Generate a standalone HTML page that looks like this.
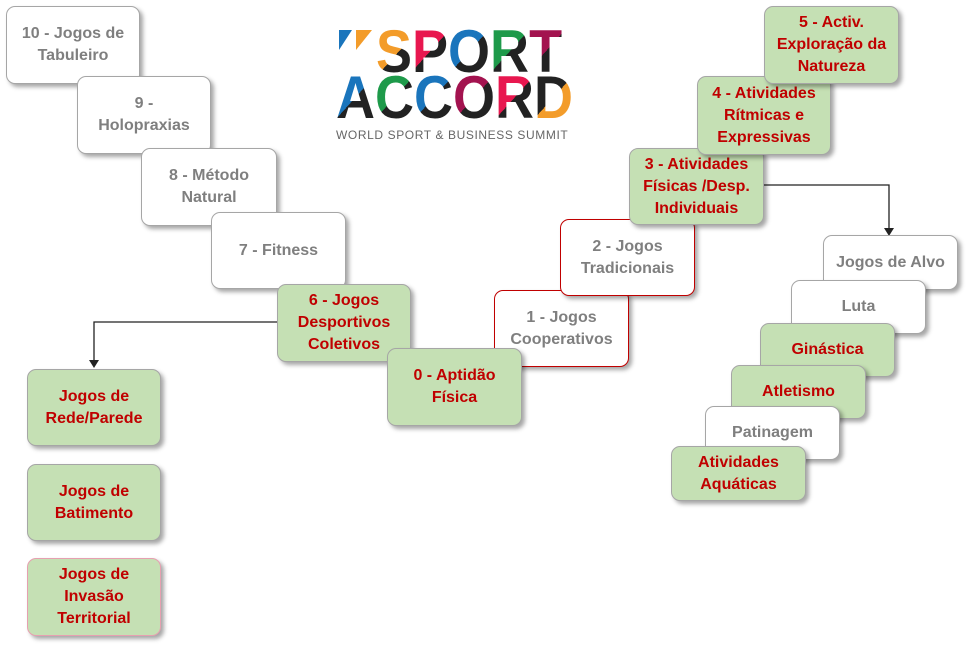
<!DOCTYPE html>
<html><head><meta charset="utf-8"><style>
body{margin:0;width:971px;height:651px;background:#fff;position:relative;overflow:hidden;font-family:"Liberation Sans",sans-serif}
.b{position:absolute;box-sizing:border-box;border:1px solid #a6a6a6;border-radius:9px;background:#fff;box-shadow:3px 3px 4px rgba(0,0,0,.35);display:flex;align-items:center;justify-content:center;text-align:center;font-weight:bold;font-size:16px;line-height:22px;color:#7f7f7f}
.g{background:#c5e0b4;color:#c00000}
.r{border-color:#c00000;color:#7f7f7f}
.logo{position:absolute;font-weight:bold;font-size:60px;line-height:60px;letter-spacing:0px;white-space:nowrap}
.logo span{-webkit-background-clip:text;background-clip:text;-webkit-text-fill-color:transparent;color:transparent}
</style></head><body>
<svg width="971" height="651" style="position:absolute;left:0;top:0">
<polyline points="277,322 94,322 94,362" fill="none" stroke="#222" stroke-width="1.3"/>
<polygon points="89,360 99,360 94,368" fill="#222"/>
<polyline points="764,185 889,185 889,230" fill="none" stroke="#222" stroke-width="1.3"/>
<polygon points="884,228 894,228 889,236" fill="#222"/>
<polygon points="339,30 352,30 339,50" fill="#1a75bc"/>
<polygon points="356,30 372,30 356,50" fill="#f39c2a"/>
</svg>
<div class="logo" style="left:376px;top:22px;transform:scaleX(0.9);transform-origin:left">
<span style="background-image:linear-gradient(135deg,#f39c2a 55%,#222 55%)">S</span><span style="background-image:linear-gradient(135deg,#e8174f 50%,#222 50%)">P</span><span style="background-image:linear-gradient(135deg,#1a75bc 50%,#222 50%)">O</span><span style="background-image:linear-gradient(135deg,#1e9a4a 50%,#222 50%)">R</span><span style="background-image:linear-gradient(135deg,#a3134f 50%,#222 50%)">T</span></div>
<div class="logo" style="left:336px;top:68px;transform:scaleX(0.9);transform-origin:left">
<span style="background-image:linear-gradient(135deg,#1a75bc 50%,#222 50%)">A</span><span style="background-image:linear-gradient(135deg,#1e9a4a 50%,#222 50%)">C</span><span style="background-image:linear-gradient(135deg,#1a75bc 50%,#222 50%)">C</span><span style="background-image:linear-gradient(135deg,#a3134f 50%,#222 50%)">O</span><span style="background-image:linear-gradient(135deg,#e8174f 50%,#222 50%)">R</span><span style="background-image:linear-gradient(135deg,#222 50%,#f39c2a 50%)">D</span></div>
<div style="position:absolute;left:336px;top:128px;font-size:12px;color:#666;letter-spacing:0.6px;white-space:nowrap">WORLD SPORT &amp; BUSINESS SUMMIT</div>

<div class="b" style="left:6px;top:6px;width:134px;height:78px">10 - Jogos de<br>Tabuleiro</div>
<div class="b" style="left:77px;top:76px;width:134px;height:78px">9 -<br>Holopraxias</div>
<div class="b" style="left:141px;top:148px;width:136px;height:78px">8 - Método<br>Natural</div>
<div class="b" style="left:211px;top:212px;width:135px;height:77px">7 - Fitness</div>
<div class="b g" style="left:277px;top:284px;width:134px;height:78px">6 - Jogos<br>Desportivos<br>Coletivos</div>
<div class="b r" style="left:494px;top:290px;width:135px;height:77px">1 - Jogos<br>Cooperativos</div>
<div class="b g" style="left:387px;top:348px;width:135px;height:78px">0 - Aptidão<br>Física</div>
<div class="b r" style="left:560px;top:219px;width:135px;height:77px">2 - Jogos<br>Tradicionais</div>
<div class="b g" style="left:629px;top:148px;width:135px;height:77px">3 - Atividades<br>Físicas /Desp.<br>Individuais</div>
<div class="b g" style="left:697px;top:76px;width:134px;height:79px">4 - Atividades<br>Rítmicas e<br>Expressivas</div>
<div class="b g" style="left:764px;top:6px;width:135px;height:78px">5 - Activ.<br>Exploração da<br>Natureza</div>

<div class="b" style="left:823px;top:235px;width:135px;height:55px">Jogos de Alvo</div>
<div class="b" style="left:791px;top:280px;width:135px;height:54px">Luta</div>
<div class="b g" style="left:760px;top:323px;width:135px;height:54px">Ginástica</div>
<div class="b g" style="left:731px;top:365px;width:135px;height:54px">Atletismo</div>
<div class="b" style="left:705px;top:406px;width:135px;height:54px">Patinagem</div>
<div class="b g" style="left:671px;top:446px;width:135px;height:55px">Atividades<br>Aquáticas</div>

<div class="b g" style="left:27px;top:369px;width:134px;height:77px">Jogos de<br>Rede/Parede</div>
<div class="b g" style="left:27px;top:464px;width:134px;height:77px">Jogos de<br>Batimento</div>
<div class="b g" style="left:27px;top:558px;width:134px;height:78px;border-color:#e6a0b0">Jogos de<br>Invasão<br>Territorial</div>
</body></html>
